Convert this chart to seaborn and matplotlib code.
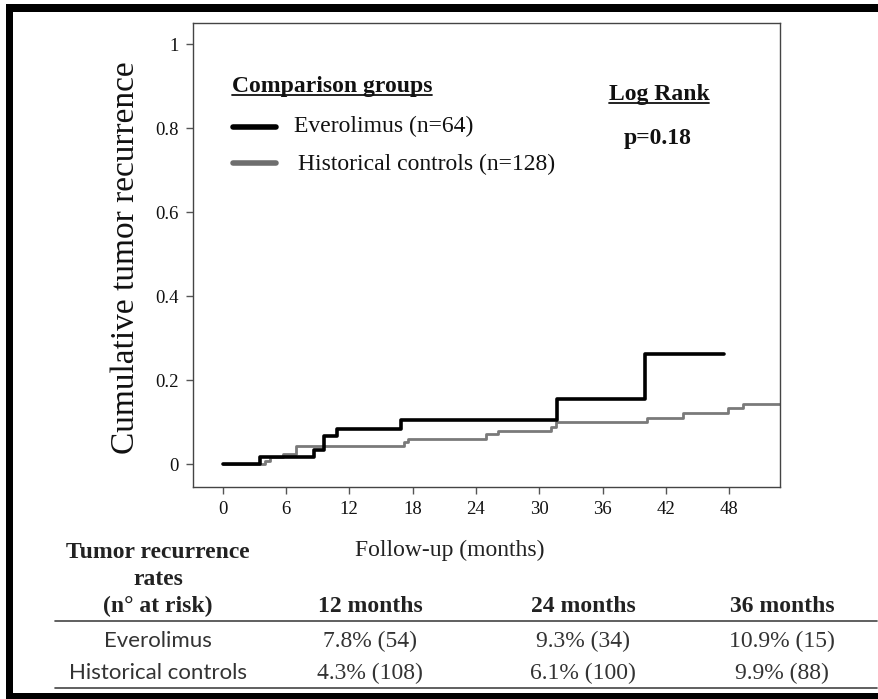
import numpy as np
import pandas as pd
import matplotlib
matplotlib.use("Agg")
import matplotlib.pyplot as plt
import seaborn as sns
from matplotlib.lines import Line2D
from matplotlib.patches import Rectangle

# ---------------- data ----------------
evero_time = [0, 3.5, 8.7, 9.6, 10.8, 16.9, 31.7, 40.0, 47.5]
evero_cum = [0, 0.017, 0.035, 0.068, 0.085, 0.106, 0.156, 0.262, 0.262]

hist_time = [0, 4.0, 4.5, 5.7, 7.0, 17.2, 17.6, 24.95, 26.1, 31.1, 31.6, 40.2, 43.6, 47.9, 49.3, 53.0]
hist_cum = [0, 0.009, 0.017, 0.025, 0.043, 0.053, 0.061, 0.071, 0.079, 0.089, 0.100, 0.111, 0.122, 0.133, 0.143, 0.143]

x_ticks = [0, 6, 12, 18, 24, 30, 36, 42, 48]
y_ticks = [0, 0.2, 0.4, 0.6, 0.8, 1.0]
y_tick_labels = ["0", "0.2", "0.4", "0.6", "0.8", "1"]

group_labels = ["Everolimus (n=64)", "Historical controls (n=128)"]
table_cols = ["12 months", "24 months", "36 months"]
table_rows = ["Everolimus", "Historical controls"]
table_vals = [["7.8% (54)", "9.3% (34)", "10.9% (15)"],
              ["4.3% (108)", "6.1% (100)", "9.9% (88)"]]

# ---------------- figure ----------------
sns.set_theme(style="white")
plt.rcParams["font.family"] = ["Liberation Serif", "DejaVu Serif"]

W, H = 879, 699
fig = plt.figure(figsize=(W / 100, H / 100), dpi=100)
fig.patch.set_facecolor("white")


def fx(x):
    return x / W


def fy(y):
    return 1 - y / H


ax = fig.add_axes([fx(193), fy(487), (780 - 193) / W, (487 - 22.7) / H])
ax.set_facecolor("white")

df_e = pd.DataFrame({"time": evero_time, "cum": evero_cum})
df_h = pd.DataFrame({"time": hist_time, "cum": hist_cum})

sns.lineplot(data=df_h, x="time", y="cum", ax=ax, color="#7a7a7a", lw=2.0,
             drawstyle="steps-post", estimator=None, sort=False, zorder=2)
sns.lineplot(data=df_e, x="time", y="cum", ax=ax, color="black", lw=2.6,
             drawstyle="steps-post", estimator=None, sort=False, zorder=3)

ax.set_xlim(-2.8, 52.8)
ax.set_ylim(-0.054, 1.051)
ax.set_xticks(x_ticks)
ax.set_xticklabels([str(t) for t in x_ticks])
ax.set_yticks(y_ticks)
ax.set_yticklabels(y_tick_labels)
ax.set_xlabel("")
ax.set_ylabel("")
ax.tick_params(axis="both", direction="out", length=5, width=1, color="#555555",
               labelsize=13.5, labelcolor="#111111", pad=5,
               bottom=True, left=True, top=False, right=False)
for s in ax.spines.values():
    s.set_linewidth(1.0)
    s.set_color("#444444")
    s.set_visible(True)

# y label
fig.text(fx(126), fy(258), "Cumulative tumor recurrence", rotation=90,
         ha="center", va="center", fontsize=24, color="#111111")

# legend / annotations
underlines = []
t_cg = fig.text(fx(232), fy(92), "Comparison groups", ha="left", va="baseline",
                fontsize=17, fontweight="bold", color="#111111")
underlines.append((t_cg, 95))
fig.add_artist(Line2D([fx(233), fx(276)], [fy(127), fy(127)], color="black",
                      lw=4, transform=fig.transFigure))
fig.add_artist(Line2D([fx(233), fx(276)], [fy(163), fy(163)], color="#6e6e6e",
                      lw=4, transform=fig.transFigure))
fig.text(fx(294), fy(132), group_labels[0], ha="left", va="baseline",
         fontsize=17, color="#111111")
fig.text(fx(298), fy(170), group_labels[1], ha="left", va="baseline",
         fontsize=17, color="#111111")
t_lr = fig.text(fx(659), fy(100), "Log Rank", ha="center", va="baseline",
                fontsize=17, fontweight="bold", color="#111111")
underlines.append((t_lr, 103))
fig.text(fx(658), fy(144), "p=0.18", ha="center", va="baseline",
         fontsize=17, fontweight="bold", color="#111111")

# table
fig.text(fx(450), fy(556), "Follow-up (months)", ha="center", va="baseline",
         fontsize=17, color="#222222")
for txt, yb in zip(["Tumor recurrence", "rates", "(n\u00b0 at risk)"], [558, 585, 612]):
    fig.text(fx(158), fy(yb), txt, ha="center", va="baseline", fontsize=17,
             fontweight="bold", color="#222222")
col_x = [370, 583, 782]
for cx, c in zip(col_x, table_cols):
    fig.text(fx(cx), fy(612), c, ha="center", va="baseline", fontsize=17,
             fontweight="bold", color="#222222")
row_y = [647, 679]
for ry, rl, vals in zip(row_y, table_rows, table_vals):
    fig.text(fx(158), fy(ry), rl, ha="center", va="baseline", fontsize=16,
             family=["Lato", "DejaVu Sans"], color="#333333")
    for cx, v in zip(col_x, vals):
        fig.text(fx(cx), fy(ry), v, ha="center", va="baseline", fontsize=17,
                 color="#333333")
for ly in [621, 688]:
    fig.add_artist(Line2D([fx(55), fx(877)], [fy(ly), fy(ly)], color="#444444",
                          lw=1.2, transform=fig.transFigure))

# outer frame (left, top, bottom bars)
fig.add_artist(Rectangle((fx(6.5), 0), 6.5 / W, 1 - 4 / H, transform=fig.transFigure,
                         color="black", lw=0))
fig.add_artist(Rectangle((fx(6.5), fy(12)), 1, 8 / H, transform=fig.transFigure,
                         color="black", lw=0))
fig.add_artist(Rectangle((fx(6.5), 0), 1, 6 / H, transform=fig.transFigure,
                         color="black", lw=0))

# underlines
fig.canvas.draw()
renderer = fig.canvas.get_renderer()
for t, uy in underlines:
    bb = t.get_window_extent(renderer)
    fig.add_artist(Line2D([bb.x0 / W, bb.x1 / W], [fy(uy), fy(uy)], color="#111111",
                          lw=1.3, transform=fig.transFigure))

fig.savefig("out.png", dpi=100, facecolor="white")
